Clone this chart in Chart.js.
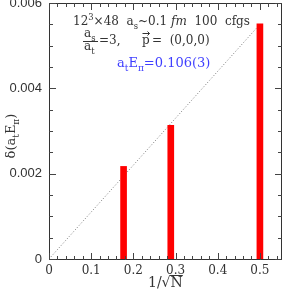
<!DOCTYPE html>
<html><head><meta charset="utf-8">
<script src="https://cdn.jsdelivr.net/npm/chart.js@4"></script>
<style>html,body{margin:0;padding:0;background:#fff}#wrap{width:291px;height:291px}</style>
</head><body><div id="wrap"><canvas id="c" width="291" height="291"></canvas></div>
<script>
const barX = [0.1768, 0.2887, 0.5];
const barY = [0.00217, 0.00313, 0.00551];
const fitX = [0, 0.5];
const fitY = [0, 0.0055];
const xTickValues = [0, 0.1, 0.2, 0.3, 0.4, 0.5];
const xTickLabels = ['0', '0.1', '0.2', '0.3', '0.4', '0.5'];
const yTickValues = [0, 0.002, 0.004, 0.006];
const yTickLabels = ['0', '0.002', '0.004', '0.006'];

function lab(vals, labels, v){
  for(let i=0;i<vals.length;i++){ if(Math.abs(vals[i]-v)<1e-9) return labels[i]; }
  return '';
}

function richWidth(ctx, segs, size, fam){
  let w=0;
  for(const s of segs){
    const sz = (s.sub||s.sup)? size*0.7 : size;
    ctx.font = (s.it?'italic ':'') + sz + 'px ' + fam;
    w += ctx.measureText(s.t).width + (s.dx||0);
  }
  return w;
}
function richDraw(ctx, segs, x, y, size, fam, color){
  ctx.fillStyle = color; ctx.textBaseline='alphabetic'; ctx.textAlign='left';
  for(const s of segs){
    const sz = (s.sub||s.sup)? size*0.7 : size;
    ctx.font = (s.it?'italic ':'') + sz + 'px ' + fam;
    const dy = s.sub? size*0.3 : (s.sup? -size*0.4 : 0);
    ctx.fillText(s.t, x + (s.dx||0), y+dy);
    x += ctx.measureText(s.t).width + (s.dx||0);
  }
  return x;
}

const serif = '"DejaVu Serif", "Liberation Serif", serif';

const decor = {
  id:'decor',
  afterDraw(chart){
    const ctx = chart.ctx, a = chart.chartArea;
    const xs = chart.scales.x, ys = chart.scales.y;
    ctx.save();
    ctx.setLineDash([]);
    ctx.strokeStyle = '#333'; ctx.lineWidth = 1;
    const L0 = Math.round(a.left), R0 = Math.round(a.right), T0 = Math.round(a.top), B0 = Math.round(a.bottom);
    ctx.strokeRect(L0+0.5, T0+0.5, R0-L0, B0-T0);
    ctx.fillStyle = '#444';
    for(let i=0;i<=27;i++){
      const px = Math.round(xs.getPixelForValue(i*0.02));
      const tl = (i%5===0)?7:4;
      ctx.fillRect(px, B0-tl+1, 1, tl);
      ctx.fillRect(px, T0, 1, tl);
    }
    for(let i=0;i<=12;i++){
      const py = Math.round(ys.getPixelForValue(i*0.0005));
      const tl = (i%4===0)?7:4;
      ctx.fillRect(L0, py, tl, 1);
      ctx.fillRect(R0-tl+1, py, tl, 1);
    }

    const col = '#333';
    const fs = 12;
    richDraw(ctx, [{t:'12'},{t:'3',sup:1},{t:'×48  a'},{t:'s',sub:1},{t:'~0.1 '},{t:'fm',it:1},{t:'  100  cfgs'}], 73, 25, fs, serif, col);
    richDraw(ctx, [{t:'a'},{t:'s',sub:1}], 84, 37, fs, serif, col);
    richDraw(ctx, [{t:'a'},{t:'t',sub:1}], 84, 50, fs, serif, col);
    ctx.fillStyle = col; ctx.fillRect(83, 41, 15, 1);
    richDraw(ctx, [{t:'=3,'}], 99, 44, fs, serif, col);
    richDraw(ctx, [{t:'p'}], 142, 44, fs, serif, col);
    ctx.beginPath(); ctx.strokeStyle = col;
    ctx.moveTo(142.5, 33.5); ctx.lineTo(149.5, 33.5);
    ctx.moveTo(147.5, 31.5); ctx.lineTo(149.5, 33.5); ctx.lineTo(147.5, 35.5);
    ctx.stroke();
    richDraw(ctx, [{t:'=  (0,0,0)'}], 152, 44, fs, serif, col);
    richDraw(ctx, [{t:'a'},{t:'t',sub:1},{t:'E'},{t:'π',sub:1},{t:'=0.106(3)'}], 117, 67, 13, serif, '#3f3fff');

    ctx.save();
    ctx.translate(15, 136);
    ctx.rotate(-Math.PI/2);
    const ysegs = [{t:'δ(a'},{t:'t',sub:1},{t:'E'},{t:'π',sub:1},{t:')'}];
    const w = richWidth(ctx, ysegs, 13, serif);
    richDraw(ctx, ysegs, -w/2, 0, 13, serif, col);
    ctx.restore();

    let x = richDraw(ctx, [{t:'1/√'}], 148, 287, 14, serif, col);
    ctx.font = '14px '+serif;
    const nw = ctx.measureText('N').width;
    ctx.fillStyle = col;
    ctx.fillRect(x-1, 275, nw+1, 1);
    richDraw(ctx, [{t:'N'}], x, 287, 14, serif, col);
    ctx.restore();
  }
};

new Chart(document.getElementById('c'), {
  data:{
    datasets:[
      {type:'line', data: fitX.map((x,i)=>({x, y: fitY[i]})), borderColor:'#777', borderWidth:1, borderDash:[1,2], pointRadius:0, fill:false, order:2},
      {type:'bar', data: barX.map((x,i)=>({x, y: barY[i]})), backgroundColor:'#ff0000', borderWidth:0, barThickness:6, grouped:false, order:1}
    ]
  },
  options:{
    responsive:false, animation:false, devicePixelRatio:1,
    layout:{padding:{top:3, right:10, left:0, bottom:0}},
    plugins:{legend:{display:false}, tooltip:{enabled:false}},
    scales:{
      x:{type:'linear', offset:false, min:0, max:0.55, grid:{display:false, drawTicks:false, offset:false}, border:{display:false},
        afterBuildTicks(s){ s.ticks = xTickValues.map(v=>({value:v})); },
        afterFit(s){ s.height = 32; s.paddingLeft = 0; s.paddingRight = 0; },
        ticks:{padding:5, color:'#333', font:{family:serif, size:12}, maxRotation:0, autoSkip:false,
          callback:(v)=>lab(xTickValues, xTickLabels, v)}},
      y:{type:'linear', min:0, max:0.006, grid:{display:false, drawTicks:false}, border:{display:false},
        afterBuildTicks(s){ s.ticks = yTickValues.map(v=>({value:v})); },
        afterFit(s){ s.width = 49; s.paddingTop = 0; s.paddingBottom = 0; },
        ticks:{padding:7, color:'#333', font:{family:'"Liberation Sans", Arial, sans-serif', size:13}, autoSkip:false,
          callback:(v)=>lab(yTickValues, yTickLabels, v)}}
    }
  },
  plugins:[decor]
});
</script>
</body></html>
